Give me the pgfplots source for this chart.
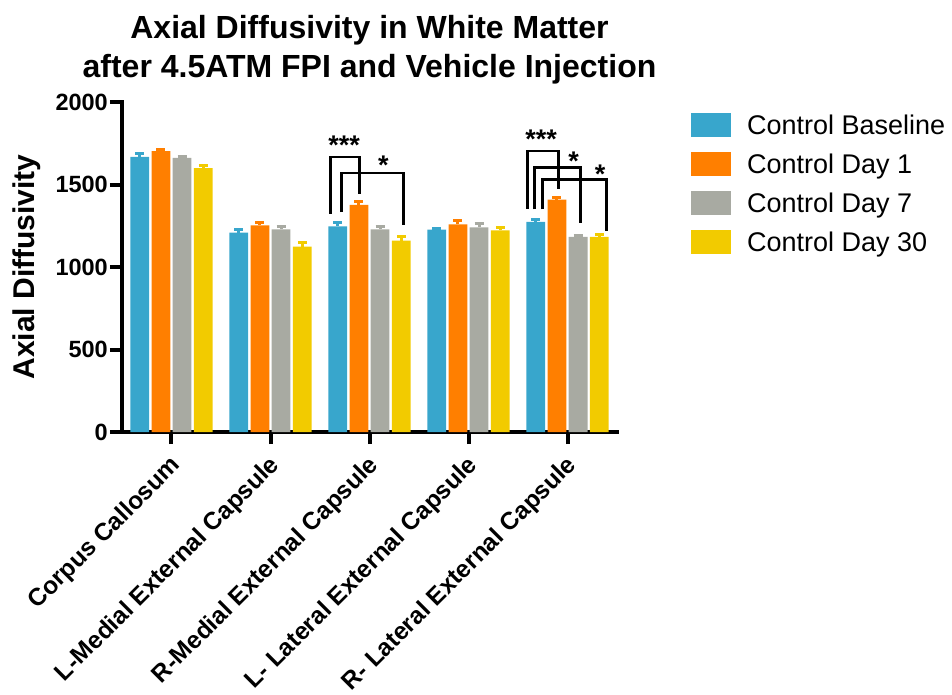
\documentclass[border=0pt]{standalone}
\usepackage{fontspec}
\setmainfont{Liberation Sans}
\usepackage{pgfplots}
\pgfplotsset{compat=1.18}
\definecolor{cb}{RGB}{56,166,204}
\definecolor{cone}{RGB}{255,127,0}
\definecolor{cseven}{RGB}{168,170,162}
\definecolor{cthirty}{RGB}{242,203,0}
\begin{document}
\begin{tikzpicture}
\useasboundingbox (-122pt,-262pt) rectangle (830pt,432pt);
\begin{axis}[
  at={(0pt,0pt)}, anchor=south west,
  width=495pt, height=330pt, scale only axis,
  xmin=-0.5, xmax=4.5, ymin=0, ymax=2000,
  axis x line*=bottom, axis y line*=left,
  axis line style={line width=4pt, -, line cap=rect},
  ytick={0,500,1000,1500,2000}, yticklabels={0,500,1000,1500,2000},
  xtick={0,1,2,3,4},
  xticklabels={Corpus Callosum, L-Medial External Capsule, R-Medial External Capsule, L- Lateral External Capsule, R- Lateral External Capsule},
  tick align=outside, major tick length=12pt,
  tick style={line width=4pt, black},
  /pgf/number format/assume math mode=true,
  yticklabel style={font=\bfseries\fontsize{23.5}{23.5}\selectfont, inner sep=2pt},
  xticklabel style={font=\bfseries\fontsize{24.5}{24.5}\selectfont, rotate=45, anchor=east, inner sep=0pt, xshift=-8.8pt, yshift=-16.5pt},
  ylabel={Axial Diffusivity},
  ylabel style={font=\bfseries\fontsize{30}{30}\selectfont, at={(axis description cs:-0.1758,0.5)}, anchor=base, inner sep=0pt},
  title={Axial Diffusivity in White Matter\\after 4.5ATM FPI and Vehicle Injection},
  title style={at={(0.5,1)}, anchor=south, yshift=11.3pt, inner sep=0pt, align=center, font=\bfseries\fontsize{32}{39}\selectfont},
  ybar, bar width=0.19,
  legend image code/.code={\fill[#1] (0pt,-12pt) rectangle (40pt,12pt);},
  legend cell align=left,
  legend style={at={(rel axis cs:1.1495,0.9667)}, anchor=north west, draw=none, fill=none, inner sep=0pt, outer sep=0pt,
    font=\fontsize{27}{27}\selectfont, row sep=15pt,
    nodes={inner sep=0pt, text height=19.5pt, text depth=0pt},
    /tikz/every odd column/.append style={column sep=16pt}},
  clip=false,
]
\addplot[fill=cb, draw=none, bar shift=-0.321,
  error bars/.cd, y dir=plus, y explicit,
  error bar style={line width=3pt, cb},
  error mark options={rotate=90, mark size=4.5pt, line width=3pt, cb}]
  coordinates {(0,1667) +- (0,20) (1,1208) +- (0,18) (2,1246) +- (0,21) (3,1226) +- (0,6) (4,1273) +- (0,16)};
\addplot[fill=cone, draw=none, bar shift=-0.107,
  error bars/.cd, y dir=plus, y explicit,
  error bar style={line width=3pt, cone},
  error mark options={rotate=90, mark size=4.5pt, line width=3pt, cone}]
  coordinates {(0,1703) +- (0,12) (1,1253) +- (0,16) (2,1376) +- (0,18) (3,1259) +- (0,20) (4,1408) +- (0,14)};
\addplot[fill=cseven, draw=none, bar shift=0.107,
  error bars/.cd, y dir=plus, y explicit,
  error bar style={line width=3pt, cseven},
  error mark options={rotate=90, mark size=4.5pt, line width=3pt, cseven}]
  coordinates {(0,1661) +- (0,6) (1,1228) +- (0,16) (2,1228) +- (0,16) (3,1240) +- (0,21) (4,1182) +- (0,6)};
\addplot[fill=cthirty, draw=none, bar shift=0.321,
  error bars/.cd, y dir=plus, y explicit,
  error bar style={line width=3pt, cthirty},
  error mark options={rotate=90, mark size=4.5pt, line width=3pt, cthirty}]
  coordinates {(0,1600) +- (0,16) (1,1123) +- (0,27) (2,1160) +- (0,24) (3,1222) +- (0,16) (4,1182) +- (0,18)};
\legend{Control Baseline, Control Day 1, Control Day 7, Control Day 30}
% significance brackets
\draw[line width=2.8pt] (axis cs:1.61,1323) |- (axis cs:1.899,1667) -- (axis cs:1.899,1444);
\draw[line width=2.8pt] (axis cs:1.717,1333) |- (axis cs:2.343,1570) -- (axis cs:2.343,1253);
\draw[line width=2.8pt] (axis cs:3.593,1354) |- (axis cs:3.912,1703) -- (axis cs:3.912,1475);
\draw[line width=2.8pt] (axis cs:3.667,1349) |- (axis cs:4.128,1602) -- (axis cs:4.128,1269);
\draw[line width=2.8pt] (axis cs:3.75,1349) |- (axis cs:4.39,1529) -- (axis cs:4.39,1218);
\node[anchor=north, inner sep=0pt, font=\bfseries\fontsize{27}{27}\selectfont] at (axis cs:1.744,1798) {***};
\node[anchor=north, inner sep=0pt, font=\bfseries\fontsize{27}{27}\selectfont] at (axis cs:2.141,1677) {*};
\node[anchor=north, inner sep=0pt, font=\bfseries\fontsize{27}{27}\selectfont] at (axis cs:3.734,1832) {***};
\node[anchor=north, inner sep=0pt, font=\bfseries\fontsize{27}{27}\selectfont] at (axis cs:4.061,1701) {*};
\node[anchor=north, inner sep=0pt, font=\bfseries\fontsize{27}{27}\selectfont] at (axis cs:4.33,1622) {*};
\end{axis}
\end{tikzpicture}
\end{document}
